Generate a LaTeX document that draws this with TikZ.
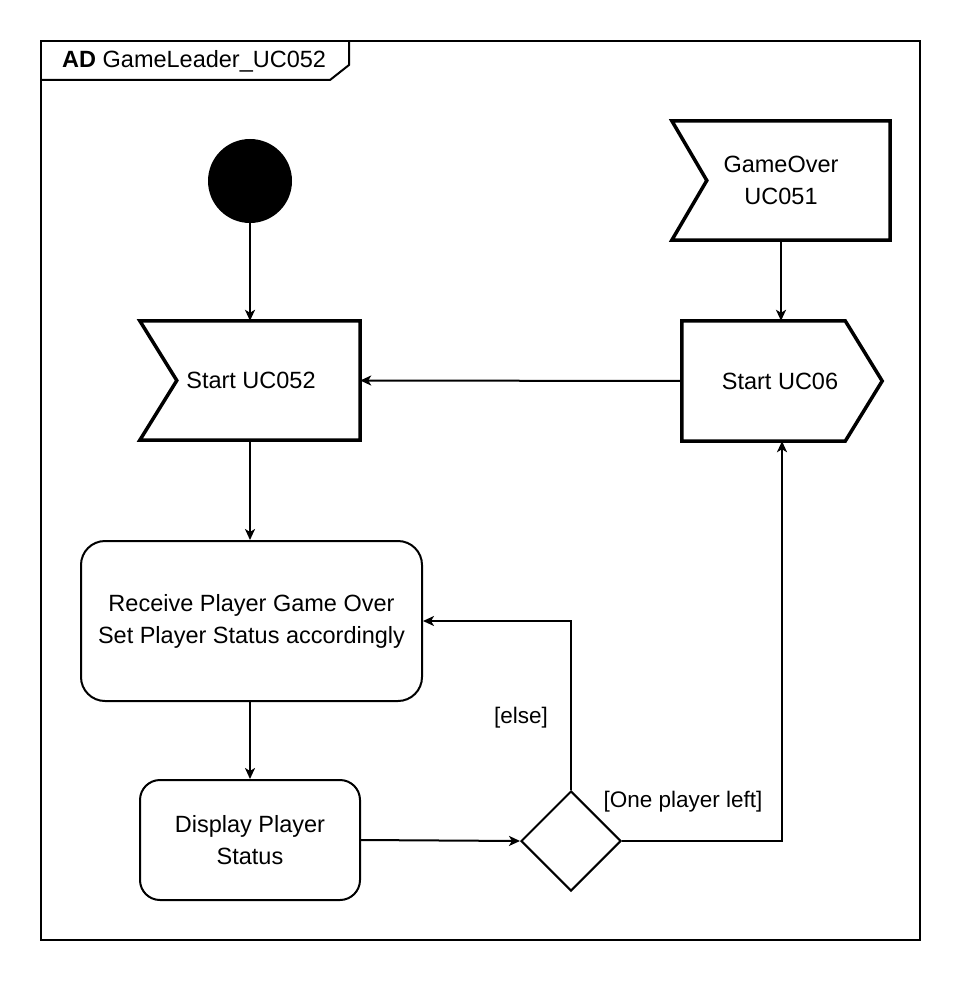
\documentclass[tikz,border=0pt]{standalone}
\usepackage{fontspec}
\setmainfont{Liberation Sans}
\usetikzlibrary{shapes.geometric,arrows.meta}
\begin{document}
\begin{tikzpicture}[x=1pt,y=-1pt,
  txt/.style={font=\fontsize{23.5}{32}\selectfont, align=center},
  box/.style={txt, inner sep=0pt},
  act/.style={box, draw, line width=2pt, rounded corners=24pt},
  sig/.style={line width=3.5pt, line join=miter},
  arr/.style={line width=2pt, -{Stealth[length=11pt,width=10pt,inset=3pt]}},
  lbl/.style={font=\fontsize{22.5}{26}\selectfont}]
\useasboundingbox (0,0) rectangle (964,984);
% frame
\draw[line width=2pt] (41,41) rectangle (920,940);
\draw[line width=2pt] (41,80) -- (330,80) -- (349,65) -- (349,41);
\node[anchor=base west, font=\fontsize{23.5}{26}\selectfont, inner sep=0pt] (title) at (62,68) {\textbf{AD} GameLeader\_UC052};
% initial node
\node[circle, fill=black, minimum size=84pt, inner sep=0pt] (init) at (250,181) {};
% signals
\node[box, minimum width=220pt, minimum height=119pt] (s52) at (250,380.5) {\hspace*{2pt}Start UC052};
\draw[sig] (s52.north west) -- (s52.north east) -- (s52.south east) -- (s52.south west) -- ([xshift=37pt]s52.west) -- cycle;
\node[box, minimum width=218pt, minimum height=119pt] (go) at (781,180.5) {GameOver\\UC051};
\draw[sig] (go.north west) -- (go.north east) -- (go.south east) -- (go.south west) -- ([xshift=35pt]go.west) -- cycle;
\node[box, minimum width=200pt, minimum height=120pt] (s06) at (782,381) {\hspace*{-4pt}Start UC06};
\draw[sig] (s06.north west) -- ([xshift=-37pt]s06.north east) -- (s06.east) -- ([xshift=-37pt]s06.south east) -- (s06.south west) -- cycle;
% actions
\node[act, minimum width=341pt, minimum height=160pt] (recv) at (251.5,621) {Receive Player Game Over\\Set Player Status accordingly};
\node[act, minimum width=220pt, minimum height=120pt, rounded corners=20pt] (disp) at (250,840) {Display Player\\Status};
% decision
\node[diamond, draw, line width=2pt, minimum width=100pt, minimum height=100pt, inner sep=0pt] (dia) at (571,841) {};
% connectors
\draw[arr] (init) -- (init |- s52.north);
\draw[arr] (s52.south) -- (s52.south |- recv.north);
\draw[arr] (recv.south -| disp.north) -- (disp.north);
\draw[arr] (disp.east) -- (dia.west);
\draw[arr] (dia.north) |- (recv.east);
\draw[arr] (dia.east) -| (s06.south);
\draw[arr] (go.south) -- (go.south |- s06.north);
\draw[arr] (s06.west) -- (s52.east);
% guards
\node[lbl] (else) at (521,718) {[else]};
\node[lbl] (one) at (683,802) {[One player left]};
\end{tikzpicture}
\end{document}
